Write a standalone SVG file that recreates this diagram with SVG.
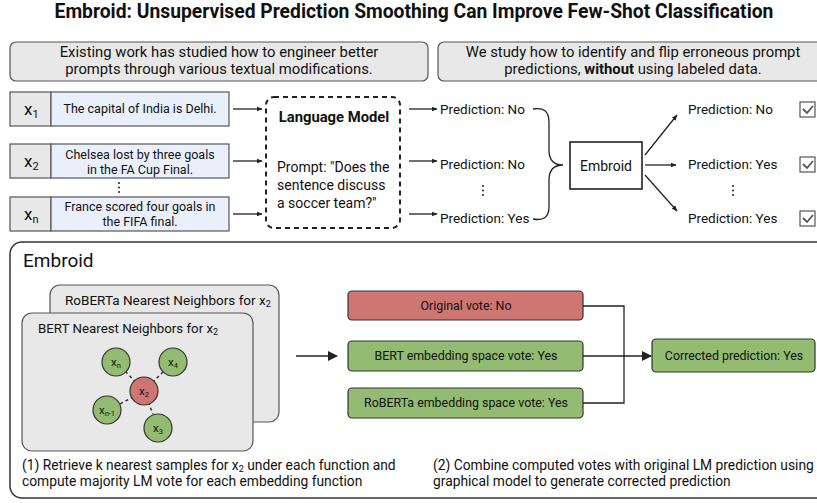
<svg xmlns="http://www.w3.org/2000/svg" width="817" height="503" viewBox="0 0 817 503">
<defs>
<marker id="ah" viewBox="0 0 10 10" refX="9" refY="5" markerWidth="6" markerHeight="6" orient="auto" markerUnits="userSpaceOnUse"><path d="M0,1 L10,5 L0,9 z" fill="#222"/></marker>
<marker id="ahb" viewBox="0 0 10 10" refX="9" refY="5" markerWidth="10" markerHeight="10" orient="auto" markerUnits="userSpaceOnUse"><path d="M0,0 L10,5 L0,10 z" fill="#222"/></marker>
</defs>
<style>
text{font-family:Roboto,"Liberation Sans",sans-serif;fill:#111}
.title{font-size:19.3px;font-weight:bold}
.note{font-size:14.8px}
.inp{font-size:12.5px}
.pred{font-size:13.5px}
.gbox{fill:#e8e8e8;stroke:#555;stroke-width:1.2}
.tbox{fill:#eaf0fb;stroke:#555;stroke-width:1.2}
.vote{font-size:12.4px}
.red{fill:#cd7672;stroke:#333;stroke-width:1.2}
.grn{fill:#93bc72;stroke:#333;stroke-width:1.2}
.ln{stroke:#222;stroke-width:1.3;fill:none}
.dl{stroke:#333;stroke-width:1.5;stroke-dasharray:3,3;fill:none}
.dot{fill:#222}
</style>
<rect width="817" height="503" fill="#fff"/>
<text class="title" x="414" y="18" text-anchor="middle">Embroid: Unsupervised Prediction Smoothing Can Improve Few-Shot Classification</text>

<g id="note-left">
<rect class="gbox" x="10" y="42" width="418" height="39" rx="6"/>
<text class="note" x="219" y="57" text-anchor="middle">Existing work has studied how to engineer better</text>
<text class="note" x="219" y="74" text-anchor="middle">prompts through various textual modifications.</text>
</g>
<g id="note-right">
<rect class="gbox" x="438" y="42" width="390" height="39" rx="6"/>
<text class="note" x="633" y="57" text-anchor="middle">We study how to identify and flip erroneous prompt</text>
<text class="note" x="633" y="74" text-anchor="middle">predictions, <tspan font-weight="bold">without</tspan> using labeled data.</text>
</g>

<g id="x1">
<rect class="gbox" x="10" y="92" width="41" height="34"/>
<rect class="tbox" x="51" y="92" width="178" height="34"/>
<text x="24" y="115" font-size="17">x<tspan font-size="11" dy="3">1</tspan></text>
<text class="inp" x="140" y="113" text-anchor="middle">The capital of India is Delhi.</text>
</g>
<g id="x2">
<rect class="gbox" x="10" y="144" width="41" height="34"/>
<rect class="tbox" x="51" y="144" width="178" height="34"/>
<text x="24" y="167" font-size="17">x<tspan font-size="11" dy="3">2</tspan></text>
<text class="inp" x="140" y="159" text-anchor="middle">Chelsea lost by three goals</text>
<text class="inp" x="140" y="174" text-anchor="middle">in the FA Cup Final.</text>
</g>
<g id="xdots"><circle class="dot" cx="119" cy="183" r="1"/><circle class="dot" cx="119" cy="187.5" r="1"/><circle class="dot" cx="119" cy="192" r="1"/></g>
<g id="xn">
<rect class="gbox" x="10" y="197" width="41" height="34"/>
<rect class="tbox" x="51" y="197" width="178" height="34"/>
<text x="24" y="220" font-size="17">x<tspan font-size="11" dy="3">n</tspan></text>
<text class="inp" x="140" y="211" text-anchor="middle">France scored four goals in</text>
<text class="inp" x="140" y="226" text-anchor="middle">the FIFA final.</text>
</g>

<g id="lm">
<rect x="266" y="97" width="134" height="131" rx="8" fill="none" stroke="#222" stroke-width="2" stroke-dasharray="5,4"/>
<text x="334" y="122" text-anchor="middle" font-size="14.8" font-weight="bold">Language Model</text>
<text x="277" y="172" font-size="14">Prompt: "Does the</text>
<text x="277" y="190" font-size="14">sentence discuss</text>
<text x="277" y="208" font-size="14">a soccer team?"</text>
</g>

<g id="preds">
<text class="pred" x="440" y="114">Prediction: No</text>
<text class="pred" x="440" y="169">Prediction: No</text>
<text class="pred" x="440" y="223">Prediction: Yes</text>
<circle class="dot" cx="483" cy="186" r="1"/><circle class="dot" cx="483" cy="190.5" r="1"/><circle class="dot" cx="483" cy="195" r="1"/>
</g>

<g id="embroid-box">
<rect x="570" y="142" width="72" height="47" fill="#fff" stroke="#222" stroke-width="1.6"/>
<text x="606" y="171" text-anchor="middle" font-size="14">Embroid</text>
</g>

<g id="outputs">
<text class="pred" x="688" y="114">Prediction: No</text>
<text class="pred" x="688" y="169">Prediction: Yes</text>
<text class="pred" x="688" y="223">Prediction: Yes</text>
<circle class="dot" cx="733" cy="186" r="1"/><circle class="dot" cx="733" cy="190.5" r="1"/><circle class="dot" cx="733" cy="195" r="1"/>
</g>
<g id="checks" fill="#fff" stroke="#555" stroke-width="1.2">
<rect x="800" y="102" width="15" height="15"/><path d="M803,109 L807,113 L813,106" fill="none" stroke="#555" stroke-width="1.8"/>
<rect x="800" y="157" width="15" height="15"/><path d="M803,164 L807,168 L813,161" fill="none" stroke="#555" stroke-width="1.8"/>
<rect x="800" y="211" width="15" height="15"/><path d="M803,218 L807,222 L813,215" fill="none" stroke="#555" stroke-width="1.8"/>
</g>

<g id="embroid-panel">
<rect x="10" y="242" width="830" height="256" rx="12" fill="none" stroke="#333" stroke-width="1.5"/>
<text x="23" y="267" font-size="19">Embroid</text>
</g>
<g id="roberta-card">
<rect class="gbox" x="50" y="285" width="229" height="137" rx="10" stroke="#333" stroke-width="1.5"/>
<text x="65" y="305" font-size="13.5">RoBERTa Nearest Neighbors for x<tspan font-size="9" dy="2">2</tspan></text>
</g>
<g id="bert-card">
<rect class="gbox" x="22" y="313" width="231" height="138" rx="10" stroke="#333" stroke-width="1.5"/>
<text x="38" y="333" font-size="13.3">BERT Nearest Neighbors for x<tspan font-size="9" dy="2">2</tspan></text>
</g>
<g id="knn">
<line class="dl" x1="144" y1="391" x2="126" y2="372"/>
<line class="dl" x1="144" y1="391" x2="163" y2="372"/>
<line class="dl" x1="144" y1="391" x2="120" y2="404"/>
<line class="dl" x1="144" y1="391" x2="153" y2="414"/>
<g stroke="#333" stroke-width="1.2">
<circle cx="116" cy="362" r="14" fill="#93bc72"/>
<circle cx="173" cy="362" r="14" fill="#93bc72"/>
<circle cx="144" cy="391" r="14" fill="#cd7672"/>
<circle cx="107" cy="410" r="14" fill="#93bc72"/>
<circle cx="158" cy="428" r="14" fill="#93bc72"/>
</g>
<g font-size="11.5" text-anchor="middle">
<text x="116" y="366">x<tspan font-size="7.5" dy="2">n</tspan></text>
<text x="173" y="366">x<tspan font-size="7.5" dy="2">4</tspan></text>
<text x="144" y="395">x<tspan font-size="7.5" dy="2">2</tspan></text>
<text x="107" y="414">x<tspan font-size="7.5" dy="2">n-1</tspan></text>
<text x="158" y="432">x<tspan font-size="7.5" dy="2">3</tspan></text>
</g>
</g>

<g id="vote-orig"><rect class="red" x="348" y="291" width="235" height="29" rx="4"/><text class="vote" x="466" y="310" text-anchor="middle">Original vote: No</text></g>
<g id="vote-bert"><rect class="grn" x="348" y="341" width="235" height="30" rx="4"/><text class="vote" x="466" y="360" text-anchor="middle">BERT embedding space vote: Yes</text></g>
<g id="vote-roberta"><rect class="grn" x="348" y="388" width="235" height="30" rx="4"/><text class="vote" x="466" y="407" text-anchor="middle">RoBERTa embedding space vote: Yes</text></g>
<g id="corrected"><rect class="grn" x="652" y="339" width="163" height="33" rx="4"/><text class="vote" x="734" y="360" text-anchor="middle">Corrected prediction: Yes</text></g>

<g id="captions" font-size="13.8">
<text x="22" y="470">(1) Retrieve k nearest samples for x<tspan font-size="9" dy="2">2</tspan><tspan dy="-2"> under each function and</tspan></text>
<text x="22" y="486">compute majority LM vote for each embedding function</text>
<text x="433" y="470">(2) Combine computed votes with original LM prediction using</text>
<text x="433" y="486">graphical model to generate corrected prediction</text>
</g>

<g id="connectors">
<line class="ln" x1="233" y1="109" x2="262" y2="109" marker-end="url(#ah)"/>
<line class="ln" x1="233" y1="161" x2="262" y2="161" marker-end="url(#ah)"/>
<line class="ln" x1="233" y1="214" x2="262" y2="214" marker-end="url(#ah)"/>
<line class="ln" x1="409" y1="109" x2="437" y2="109" marker-end="url(#ah)"/>
<line class="ln" x1="409" y1="161" x2="437" y2="161" marker-end="url(#ah)"/>
<line class="ln" x1="409" y1="214" x2="437" y2="214" marker-end="url(#ah)"/>
<path class="ln" stroke-width="1.6" d="M533,109 Q549,106 549,122 L549,150 Q549,165 563,165 Q549,165 549,180 L549,207 Q549,222 533,219"/>
<line class="ln" x1="645" y1="155" x2="677" y2="115" marker-end="url(#ah)"/>
<line class="ln" x1="645" y1="165" x2="676" y2="165" marker-end="url(#ah)"/>
<line class="ln" x1="645" y1="175" x2="677" y2="211" marker-end="url(#ah)"/>
<line class="ln" stroke-width="1.6" x1="296" y1="356" x2="337" y2="356" marker-end="url(#ahb)"/>
<path class="ln" stroke-width="1.6" d="M583,306 L624,306 L624,403 L583,403"/>
<line class="ln" stroke-width="1.6" x1="583" y1="356" x2="651" y2="356" marker-end="url(#ahb)"/>
</g>
</svg>
